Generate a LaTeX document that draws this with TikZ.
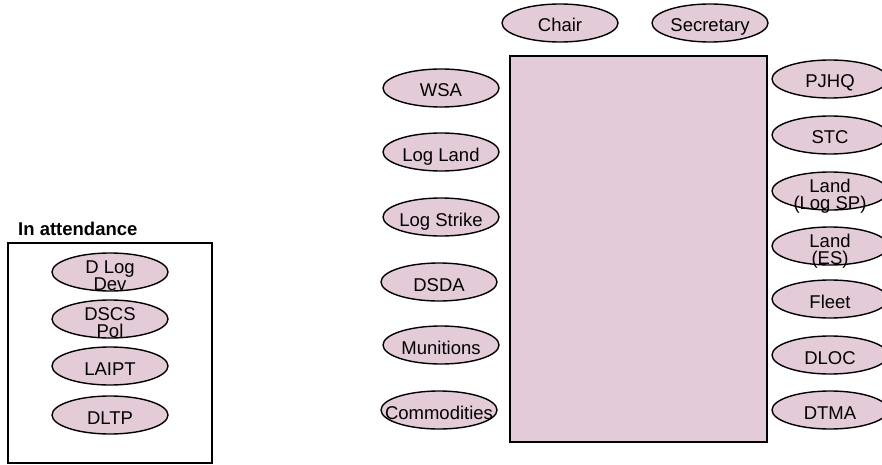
\documentclass[tikz,border=0pt]{standalone}
\usepackage{fontspec}
\setmainfont{Liberation Sans}
\usetikzlibrary{shapes.geometric}
\definecolor{podpink}{RGB}{227,203,216}
\tikzset{
  podbase/.style={ellipse, draw, line width=1.4pt, fill=podpink,
    minimum width=116pt, minimum height=38pt,
    inner xsep=-18pt, inner ysep=-6pt, align=center,
    font=\fontsize{18.5}{17}\selectfont},
  pod/.style={podbase, text height=18pt, text depth=0pt},
  podtwo/.style={podbase, text height=36pt, text depth=0pt},
}
\begin{document}
\begin{tikzpicture}[x=1pt, y=-1pt]
    \useasboundingbox (0,0) rectangle (882,465);
    % the table
    \draw[line width=2pt, fill=podpink] (510,56) rectangle (767,442);
    % head of the table
    \node[pod] (chair) at (560,23) {Chair};
    \node[pod] (secretary) at (710,23) {Secretary};
    % left side
    \node[pod] (wsa) at (441,88) {WSA};
    \node[pod] (logland) at (441,152) {Log Land};
    \node[pod] (logstrike) at (441,217) {Log Strike};
    \node[pod] (dsda) at (439,282) {DSDA};
    \node[pod] (munitions) at (441,345) {Munitions};
    \node[pod] (commodities) at (439,410) {Commodities};
    % right side
    \node[pod] (pjhq) at (830,79) {PJHQ};
    \node[pod] (stc) at (830,135) {STC};
    \node[podtwo] (landlogsp) at (830,191) {Land\\(Log SP)};
    \node[podtwo] (landes) at (830,246) {Land\\(ES)};
    \node[pod] (fleet) at (830,299) {Fleet};
    \node[pod] (dloc) at (830,355) {DLOC};
    \node[pod] (dtma) at (830,410) {DTMA};
    % in attendance
    \node[anchor=base west, inner sep=0, font=\fontsize{18.5}{20}\selectfont\bfseries]
        (attendtitle) at (18,235) {In attendance};
    \draw[line width=1.5pt] (8,243) rectangle (212,463);
    \node[podtwo] (dlogdev) at (110,272) {D Log\\Dev};
    \node[podtwo] (dscspol) at (110,319) {DSCS\\Pol};
    \node[pod] (laipt) at (110,366) {LAIPT};
    \node[pod] (dltp) at (110,415) {DLTP};
\end{tikzpicture}
\end{document}
